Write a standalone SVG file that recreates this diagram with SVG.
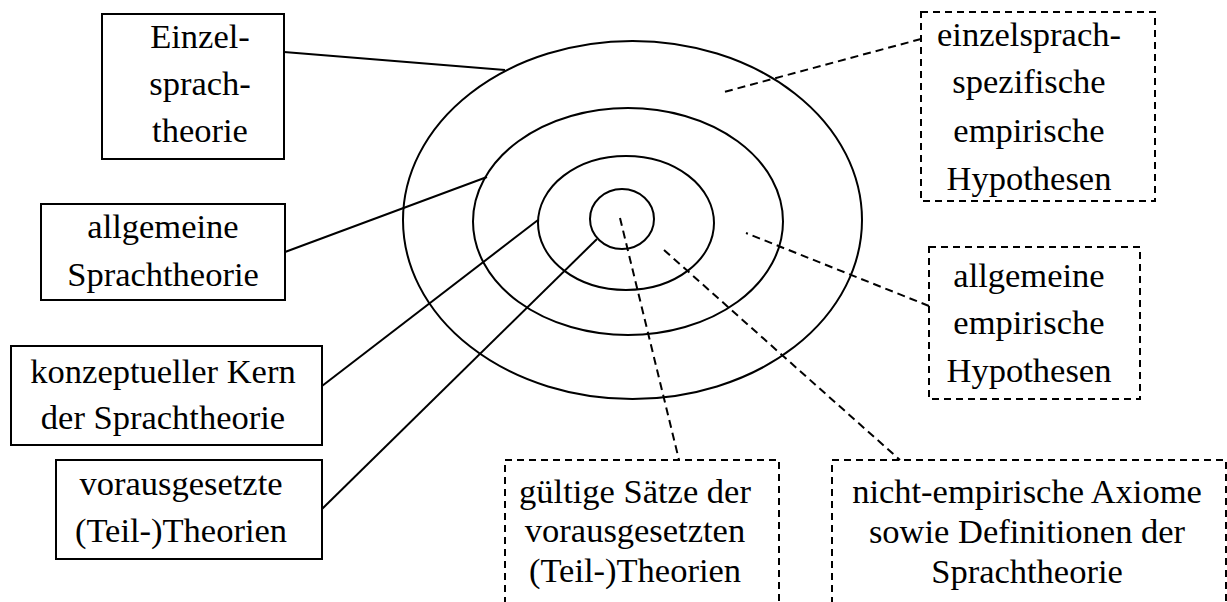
<svg xmlns="http://www.w3.org/2000/svg" width="1227" height="602" viewBox="0 0 1227 602">
<style>
.box{fill:#fff;stroke:#000;stroke-width:2}
.dbox{fill:none;stroke:#000;stroke-width:2;stroke-dasharray:7 5}
.ring{fill:none;stroke:#000;stroke-width:2}
.ln{stroke:#000;stroke-width:2;fill:none}
.dl{stroke:#000;stroke-width:2;fill:none;stroke-dasharray:8 5}
</style>
<rect width="1227" height="602" fill="#fff"/>
<g id="rings">
<ellipse class="ring" cx="632.5" cy="220" rx="229.5" ry="179"/>
<ellipse class="ring" cx="628" cy="221.5" rx="155" ry="113.5"/>
<ellipse class="ring" cx="626" cy="223" rx="88" ry="67"/>
<ellipse class="ring" cx="622" cy="219" rx="32" ry="30"/>
</g>
<g id="connectors">
<line class="ln" x1="284" y1="52" x2="505" y2="70"/>
<line class="ln" x1="285" y1="252" x2="487" y2="177"/>
<line class="ln" x1="322" y1="386" x2="538" y2="220"/>
<line class="ln" x1="322" y1="509" x2="597" y2="239"/>
<line class="dl" x1="921" y1="39" x2="724" y2="92"/>
<line class="dl" x1="929" y1="306" x2="746" y2="233"/>
<line class="dl" x1="620" y1="218" x2="679" y2="460"/>
<line class="dl" x1="664" y1="250" x2="900" y2="460"/>
</g>
<g id="n1">
<rect class="box" x="102" y="14" width="182" height="145"/>
<text x="200" y="48" font-family="Liberation Serif" font-size="34.5" text-anchor="middle">Einzel-</text>
<text x="200" y="95" font-family="Liberation Serif" font-size="34.5" text-anchor="middle">sprach-</text>
<text x="200" y="142" font-family="Liberation Serif" font-size="34.5" text-anchor="middle">theorie</text>
</g>
<g id="n2">
<rect class="box" x="41" y="204" width="244" height="96"/>
<text x="163" y="238" font-family="Liberation Serif" font-size="34.5" text-anchor="middle">allgemeine</text>
<text x="163" y="286" font-family="Liberation Serif" font-size="34.5" text-anchor="middle">Sprachtheorie</text>
</g>
<g id="n3">
<rect class="box" x="11" y="346" width="311" height="99"/>
<text x="163" y="383" font-family="Liberation Serif" font-size="34.5" text-anchor="middle">konzeptueller Kern</text>
<text x="163" y="429" font-family="Liberation Serif" font-size="34.5" text-anchor="middle">der Sprachtheorie</text>
</g>
<g id="n4">
<rect class="box" x="56" y="460" width="266" height="99"/>
<text x="181" y="495" font-family="Liberation Serif" font-size="34.5" text-anchor="middle">vorausgesetzte</text>
<text x="181" y="542" font-family="Liberation Serif" font-size="34.5" text-anchor="middle">(Teil-)Theorien</text>
</g>
<g id="n5">
<rect class="dbox" x="921" y="12" width="234" height="189"/>
<text x="1029" y="46" font-family="Liberation Serif" font-size="34.5" text-anchor="middle">einzelsprach-</text>
<text x="1029" y="93" font-family="Liberation Serif" font-size="34.5" text-anchor="middle">spezifische</text>
<text x="1029" y="142" font-family="Liberation Serif" font-size="34.5" text-anchor="middle">empirische</text>
<text x="1029" y="190" font-family="Liberation Serif" font-size="34.5" text-anchor="middle">Hypothesen</text>
</g>
<g id="n6">
<rect class="dbox" x="929" y="247" width="211" height="152"/>
<text x="1029" y="287" font-family="Liberation Serif" font-size="34.5" text-anchor="middle">allgemeine</text>
<text x="1029" y="334" font-family="Liberation Serif" font-size="34.5" text-anchor="middle">empirische</text>
<text x="1029" y="382" font-family="Liberation Serif" font-size="34.5" text-anchor="middle">Hypothesen</text>
</g>
<g id="n7">
<rect class="dbox" x="505" y="460" width="274" height="170"/>
<text x="635" y="503" font-family="Liberation Serif" font-size="34.5" text-anchor="middle">gültige Sätze der</text>
<text x="635" y="542" font-family="Liberation Serif" font-size="34.5" text-anchor="middle">vorausgesetzten</text>
<text x="635" y="582" font-family="Liberation Serif" font-size="34.5" text-anchor="middle">(Teil-)Theorien</text>
</g>
<g id="n8">
<rect class="dbox" x="832" y="460" width="394" height="170"/>
<text x="1027" y="503" font-family="Liberation Serif" font-size="34.5" text-anchor="middle">nicht-empirische Axiome</text>
<text x="1027" y="543" font-family="Liberation Serif" font-size="34.5" text-anchor="middle">sowie Definitionen der</text>
<text x="1027" y="583" font-family="Liberation Serif" font-size="34.5" text-anchor="middle">Sprachtheorie</text>
</g>
</svg>
